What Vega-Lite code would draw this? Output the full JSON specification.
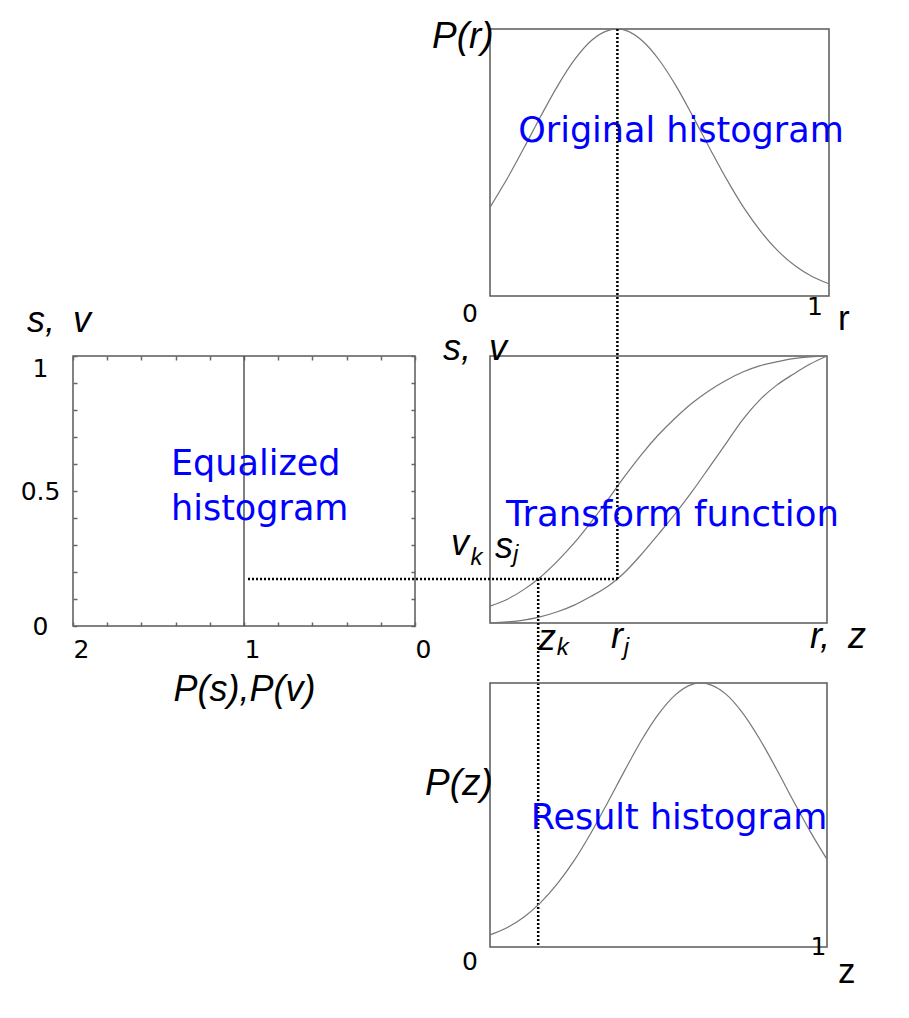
{
  "$schema": "https://vega.github.io/schema/vega-lite/v6.json",
  "background": "white",
  "autosize": {"type": "pad"},
  "padding": {"left": 19, "top": 17, "right": 5, "bottom": 5},
  "bounds": "flush",
  "align": "none",
  "columns": 2,
  "spacing": {"row": 57, "column": 75},
  "config": {
    "view": {"stroke": "#5a5a5a", "strokeWidth": 1.5},
    "axis": {"grid": false, "domain": false}
  },
  "concat": [
    {
      "width": 342,
      "height": 270,
      "view": {"stroke": null},
      "data": {"values": [{"a": 1}]},
      "mark": {"type": "text"},
      "encoding": {"text": {"value": ""}}
    },
    {
      "width": 339,
      "height": 267,
      "encoding": {
        "x": {"field": "x", "type": "quantitative", "scale": {"domain": [0, 1], "nice": false, "zero": false}, "axis": null},
        "y": {"field": "y", "type": "quantitative", "scale": {"domain": [0, 1], "nice": false, "zero": false}, "axis": null}
      },
      "layer": [
        {
          "data": {"values": [
            {"x": 0, "y": 0.332}, {"x": 0.05, "y": 0.438}, {"x": 0.1, "y": 0.554}, {"x": 0.15, "y": 0.674},
            {"x": 0.2, "y": 0.788}, {"x": 0.25, "y": 0.886}, {"x": 0.3, "y": 0.958}, {"x": 0.35, "y": 0.995},
            {"x": 0.374, "y": 1}, {"x": 0.4, "y": 0.995}, {"x": 0.45, "y": 0.955}, {"x": 0.5, "y": 0.882},
            {"x": 0.55, "y": 0.784}, {"x": 0.6, "y": 0.669}, {"x": 0.65, "y": 0.549}, {"x": 0.7, "y": 0.433},
            {"x": 0.75, "y": 0.328}, {"x": 0.8, "y": 0.24}, {"x": 0.85, "y": 0.168}, {"x": 0.9, "y": 0.113},
            {"x": 0.95, "y": 0.073}, {"x": 1, "y": 0.046}
          ]},
          "mark": {"type": "line", "color": "#777", "strokeWidth": 1.2, "interpolate": "monotone"}
        },
        {
          "data": {"values": [{"t": "Original histogram", "x": 0.5634, "y": 0.5768}]},
          "mark": {"type": "text", "align": "center", "baseline": "alphabetic", "font": "DejaVu Sans", "fontSize": 35, "color": "#0000ff"},
          "encoding": {"text": {"field": "t"}}
        },
        {
          "data": {"values": [{"t": "P(r)", "x": -0.1711, "y": 0.9288}]},
          "mark": {"type": "text", "align": "left", "baseline": "alphabetic", "font": "Liberation Sans", "fontStyle": "italic", "fontSize": 37, "color": "#000"},
          "encoding": {"text": {"field": "t"}}
        },
        {
          "data": {"values": [{"t": "0", "x": -0.059, "y": -0.0974}, {"t": "1", "x": 0.9587, "y": -0.0712}]},
          "mark": {"type": "text", "align": "center", "baseline": "alphabetic", "font": "DejaVu Sans", "fontSize": 25, "color": "#000"},
          "encoding": {"text": {"field": "t"}}
        },
        {
          "data": {"values": [{"t": "r", "x": 1.0265, "y": -0.1273}]},
          "mark": {"type": "text", "align": "left", "baseline": "alphabetic", "font": "Liberation Sans", "fontSize": 35, "color": "#000"},
          "encoding": {"text": {"field": "t"}}
        }
      ]
    },
    {
      "width": 342,
      "height": 270,
      "layer": [
        {
          "data": {"values": [{"x": 1, "y": 0}, {"x": 1, "y": 1}]},
          "mark": {"type": "line", "color": "#555", "strokeWidth": 1.5},
          "encoding": {
            "x": {
              "field": "x", "type": "quantitative",
              "scale": {"domain": [0, 2], "reverse": true, "nice": false, "zero": false},
              "axis": {
                "orient": "bottom",
                "values": [0, 0.2, 0.4, 0.6, 0.8, 1, 1.2, 1.4, 1.6, 1.8, 2],
                "tickSize": -4, "tickColor": "#666", "tickWidth": 1.5,
                "labelExpr": "datum.value == 0 ? '0' : datum.value == 1 ? '1' : datum.value == 2 ? '2' : ''",
                "labelAlign": "left", "labelBaseline": "top", "labelPadding": 15,
                "labelFlush": false, "labelOverlap": false, "labelBound": false,
                "labelFont": "DejaVu Sans", "labelFontSize": 25, "labelColor": "#000",
                "title": "P(s),P(v)", "titleFont": "Liberation Sans", "titleFontStyle": "italic",
                "titleFontWeight": "normal", "titleFontSize": 36, "titleColor": "#000", "titlePadding": 10
              }
            },
            "y": {
              "field": "y", "type": "quantitative",
              "scale": {"domain": [0, 1], "nice": false, "zero": false},
              "axis": {
                "orient": "left",
                "values": [0, 0.1, 0.2, 0.3, 0.4, 0.5, 0.6, 0.7, 0.8, 0.9, 1],
                "tickSize": -4, "tickColor": "#666", "tickWidth": 1.5,
                "labelExpr": "datum.value == 0 ? '0' : datum.value == 0.5 ? '0.5' : datum.value == 1 ? '1' : ''",
                "labelAlign": "center",
                "labelBaseline": {"condition": {"test": "datum.value == 1", "value": "top"}, "value": "middle"},
                "labelPadding": 37,
                "labelFlush": false, "labelOverlap": false, "labelBound": false,
                "labelFont": "DejaVu Sans", "labelFontSize": 25, "labelColor": "#000",
                "title": null
              }
            }
          }
        },
        {
          "data": {"values": [
            {"t": "Equalized", "x": 1.4269, "y": 0.559},
            {"t": "histogram", "x": 1.4269, "y": 0.3926}
          ]},
          "mark": {"type": "text", "align": "left", "baseline": "alphabetic", "font": "DejaVu Sans", "fontSize": 35, "color": "#0000ff"},
          "encoding": {
            "x": {
              "field": "x", "type": "quantitative",
              "scale": {"domain": [0, 2], "reverse": true, "nice": false, "zero": false},
              "axis": {"orient": "top", "values": [0, 0.2, 0.4, 0.6, 0.8, 1, 1.2, 1.4, 1.6, 1.8, 2], "tickSize": -4, "tickColor": "#666", "tickWidth": 1.5, "labels": false, "title": null}
            },
            "y": {
              "field": "y", "type": "quantitative",
              "scale": {"domain": [0, 1], "nice": false, "zero": false},
              "axis": {"orient": "right", "values": [0, 0.1, 0.2, 0.3, 0.4, 0.5, 0.6, 0.7, 0.8, 0.9, 1], "tickSize": -4, "tickColor": "#666", "tickWidth": 1.5, "labels": false, "title": null}
            },
            "text": {"field": "t"}
          }
        },
        {
          "data": {"values": [{"t": "s,\u2002v", "x": 2.269, "y": 1.0889}]},
          "mark": {"type": "text", "align": "left", "baseline": "alphabetic", "font": "Liberation Sans", "fontStyle": "italic", "fontSize": 36, "color": "#000"},
          "encoding": {
            "x": {"field": "x", "type": "quantitative", "scale": {"domain": [0, 2], "reverse": true, "nice": false, "zero": false}, "axis": null},
            "y": {"field": "y", "type": "quantitative", "scale": {"domain": [0, 1], "nice": false, "zero": false}, "axis": null},
            "text": {"field": "t"}
          }
        }
      ],
      "resolve": {"axis": {"x": "independent", "y": "independent"}}
    },
    {
      "width": 337,
      "height": 267,
      "encoding": {
        "x": {"field": "x", "type": "quantitative", "scale": {"domain": [0, 1], "nice": false, "zero": false}, "axis": null},
        "y": {"field": "y", "type": "quantitative", "scale": {"domain": [0, 1], "nice": false, "zero": false}, "axis": null}
      },
      "layer": [
        {
          "data": {"values": [
            {"curve": "s", "x": 0, "y": 0.063}, {"curve": "s", "x": 0.05, "y": 0.088}, {"curve": "s", "x": 0.1, "y": 0.125},
            {"curve": "s", "x": 0.143, "y": 0.165}, {"curve": "s", "x": 0.2, "y": 0.232}, {"curve": "s", "x": 0.25, "y": 0.3},
            {"curve": "s", "x": 0.3, "y": 0.378}, {"curve": "s", "x": 0.35, "y": 0.462}, {"curve": "s", "x": 0.4, "y": 0.55},
            {"curve": "s", "x": 0.45, "y": 0.632}, {"curve": "s", "x": 0.5, "y": 0.705}, {"curve": "s", "x": 0.55, "y": 0.768},
            {"curve": "s", "x": 0.6, "y": 0.824}, {"curve": "s", "x": 0.65, "y": 0.87}, {"curve": "s", "x": 0.7, "y": 0.908},
            {"curve": "s", "x": 0.75, "y": 0.94}, {"curve": "s", "x": 0.8, "y": 0.963}, {"curve": "s", "x": 0.85, "y": 0.978},
            {"curve": "s", "x": 0.9, "y": 0.99}, {"curve": "s", "x": 0.95, "y": 0.997}, {"curve": "s", "x": 1, "y": 1},
            {"curve": "v", "x": 0, "y": 0}, {"curve": "v", "x": 0.05, "y": 0.004}, {"curve": "v", "x": 0.1, "y": 0.011},
            {"curve": "v", "x": 0.143, "y": 0.021}, {"curve": "v", "x": 0.2, "y": 0.042}, {"curve": "v", "x": 0.25, "y": 0.067},
            {"curve": "v", "x": 0.3, "y": 0.1}, {"curve": "v", "x": 0.35, "y": 0.138}, {"curve": "v", "x": 0.378, "y": 0.165},
            {"curve": "v", "x": 0.4, "y": 0.19}, {"curve": "v", "x": 0.45, "y": 0.258}, {"curve": "v", "x": 0.5, "y": 0.333},
            {"curve": "v", "x": 0.55, "y": 0.41}, {"curve": "v", "x": 0.6, "y": 0.493}, {"curve": "v", "x": 0.65, "y": 0.582},
            {"curve": "v", "x": 0.7, "y": 0.672}, {"curve": "v", "x": 0.75, "y": 0.762}, {"curve": "v", "x": 0.8, "y": 0.835},
            {"curve": "v", "x": 0.85, "y": 0.89}, {"curve": "v", "x": 0.9, "y": 0.932}, {"curve": "v", "x": 0.95, "y": 0.97},
            {"curve": "v", "x": 1, "y": 1}
          ]},
          "mark": {"type": "line", "color": "#777", "strokeWidth": 1.2, "interpolate": "monotone"},
          "encoding": {"detail": {"field": "curve"}}
        },
        {
          "data": {"values": [
            {"guide": "s_j to r_j", "x": -0.718, "x2": 0.378, "y": 0.165, "y2": 0.165},
            {"guide": "r_j", "x": 0.378, "x2": 0.378, "y": 0.165, "y2": 2.2247},
            {"guide": "z_k", "x": 0.143, "x2": 0.143, "y": 0.165, "y2": -1.2135}
          ]},
          "mark": {"type": "rule", "color": "#000", "strokeWidth": 2.5, "strokeDash": [2, 2]},
          "encoding": {"x2": {"field": "x2"}, "y2": {"field": "y2"}}
        },
        {
          "data": {"values": [{"t": "Transform function", "x": 0.5415, "y": 0.3633}]},
          "mark": {"type": "text", "align": "center", "baseline": "alphabetic", "font": "DejaVu Sans", "fontSize": 35.5, "color": "#0000ff"},
          "encoding": {"text": {"field": "t"}}
        },
        {
          "data": {"values": [
            {"t": "s,\u2002v", "x": -0.1395, "y": 0.985},
            {"t": "v", "x": -0.1157, "y": 0.2547},
            {"t": "s", "x": 0.0148, "y": 0.2434},
            {"t": "z", "x": 0.1424, "y": -0.1011},
            {"t": "r", "x": 0.359, "y": -0.0936},
            {"t": "r,\u2002z", "x": 0.9496, "y": -0.0936}
          ]},
          "mark": {"type": "text", "align": "left", "baseline": "alphabetic", "font": "Liberation Sans", "fontStyle": "italic", "fontSize": 36, "color": "#000"},
          "encoding": {"text": {"field": "t"}}
        },
        {
          "data": {"values": [
            {"t": "k", "x": -0.058, "y": 0.2172},
            {"t": "j", "x": 0.068, "y": 0.2285},
            {"t": "k", "x": 0.198, "y": -0.1199},
            {"t": "j", "x": 0.397, "y": -0.1199}
          ]},
          "mark": {"type": "text", "align": "left", "baseline": "alphabetic", "font": "Liberation Sans", "fontStyle": "italic", "fontSize": 24, "color": "#000"},
          "encoding": {"text": {"field": "t"}}
        }
      ]
    },
    {
      "width": 342,
      "height": 264,
      "view": {"stroke": null},
      "data": {"values": [{"a": 1}]},
      "mark": {"type": "text"},
      "encoding": {"text": {"value": ""}}
    },
    {
      "width": 337,
      "height": 264,
      "encoding": {
        "x": {"field": "x", "type": "quantitative", "scale": {"domain": [0, 1], "nice": false, "zero": false}, "axis": null},
        "y": {"field": "y", "type": "quantitative", "scale": {"domain": [0, 1], "nice": false, "zero": false}, "axis": null}
      },
      "layer": [
        {
          "data": {"values": [
            {"x": 0, "y": 0.046}, {"x": 0.05, "y": 0.073}, {"x": 0.1, "y": 0.113}, {"x": 0.15, "y": 0.168},
            {"x": 0.2, "y": 0.24}, {"x": 0.25, "y": 0.328}, {"x": 0.3, "y": 0.433}, {"x": 0.35, "y": 0.549},
            {"x": 0.4, "y": 0.669}, {"x": 0.45, "y": 0.784}, {"x": 0.5, "y": 0.882}, {"x": 0.55, "y": 0.955},
            {"x": 0.6, "y": 0.995}, {"x": 0.626, "y": 1}, {"x": 0.65, "y": 0.995}, {"x": 0.7, "y": 0.958},
            {"x": 0.75, "y": 0.886}, {"x": 0.8, "y": 0.788}, {"x": 0.85, "y": 0.674}, {"x": 0.9, "y": 0.554},
            {"x": 0.95, "y": 0.438}, {"x": 1, "y": 0.332}
          ]},
          "mark": {"type": "line", "color": "#777", "strokeWidth": 1.2, "interpolate": "monotone"}
        },
        {
          "data": {"values": [{"t": "Result histogram", "x": 0.5608, "y": 0.447}]},
          "mark": {"type": "text", "align": "center", "baseline": "alphabetic", "font": "DejaVu Sans", "fontSize": 35, "color": "#0000ff"},
          "encoding": {"text": {"field": "t"}}
        },
        {
          "data": {"values": [{"t": "P(z)", "x": -0.1929, "y": 0.5758}]},
          "mark": {"type": "text", "align": "left", "baseline": "alphabetic", "font": "Liberation Sans", "fontStyle": "italic", "fontSize": 37, "color": "#000"},
          "encoding": {"text": {"field": "t"}}
        },
        {
          "data": {"values": [{"t": "0", "x": -0.0593, "y": -0.0871}, {"t": "1", "x": 0.9748, "y": -0.0303}]},
          "mark": {"type": "text", "align": "center", "baseline": "alphabetic", "font": "DejaVu Sans", "fontSize": 25, "color": "#000"},
          "encoding": {"text": {"field": "t"}}
        },
        {
          "data": {"values": [{"t": "z", "x": 1.0326, "y": -0.1364}]},
          "mark": {"type": "text", "align": "left", "baseline": "alphabetic", "font": "Liberation Sans", "fontSize": 35, "color": "#000"},
          "encoding": {"text": {"field": "t"}}
        }
      ]
    }
  ]
}
